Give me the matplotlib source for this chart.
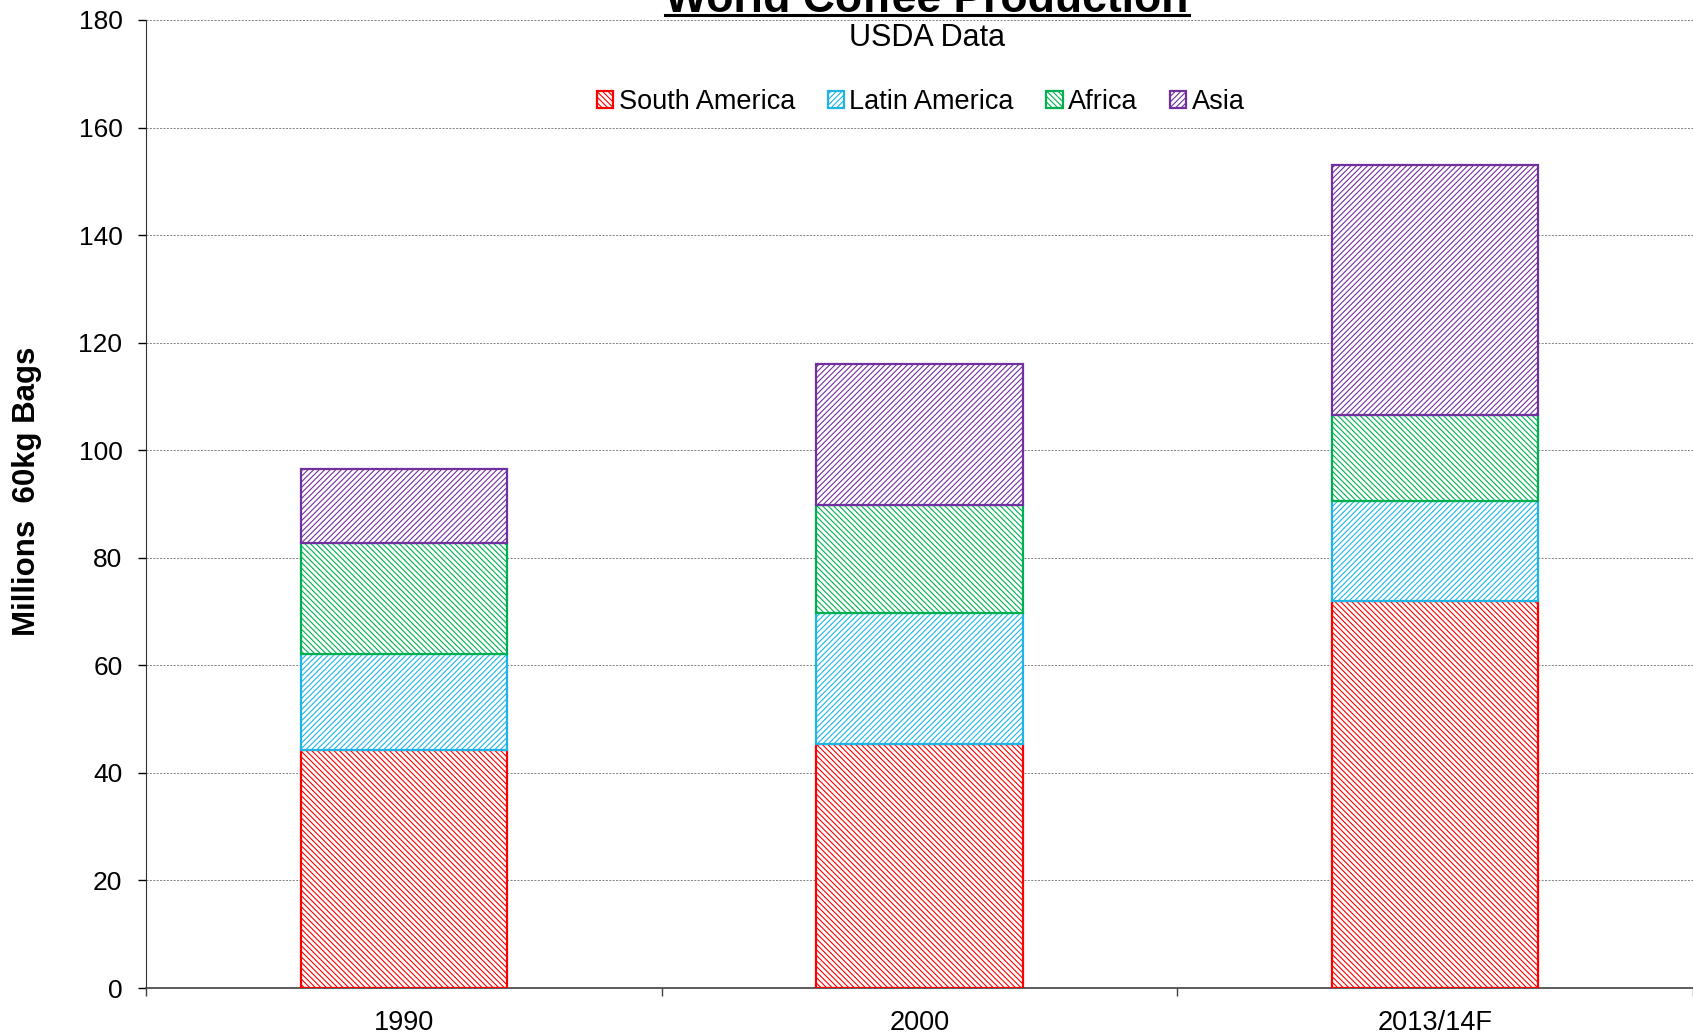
import numpy as np
import matplotlib.pyplot as plt
from matplotlib.lines import Line2D

# values (millions of 60kg bags)
categories = ['1990', '2000', '2013/14F']
south_america = [44.3, 45.3, 71.9]
latin_america = [17.9, 24.4, 18.6]
africa = [20.6, 20.1, 16.0]
asia = [13.7, 26.2, 46.6]

series = [('South America', south_america, '#FF0000', '\\' * 6),
          ('Latin America', latin_america, '#1FB4E6', '/' * 6),
          ('Africa', africa, '#00B050', '\\' * 6),
          ('Asia', asia, '#7030A0', '/' * 6)]

plt.rcParams['font.family'] = ['Liberation Sans', 'DejaVu Sans']
plt.rcParams['hatch.linewidth'] = 0.8

W, H = 1693, 1033
fig = plt.figure(figsize=(W / 100, H / 100), dpi=100)
ax = fig.add_axes([146 / W, 45 / H, 1 - 146 / W, 968 / H])

x = np.arange(len(categories))
bottom = np.zeros(len(categories))
for name, vals, col, hatch in series:
    ax.bar(x, vals, width=0.4, bottom=bottom, color='white', edgecolor=col,
           hatch=hatch, linewidth=1.6, label=name, zorder=3)
    bottom += np.array(vals)

ax.set_xlim(-0.5, 2.5)
ax.set_ylim(0, 180)
ax.set_yticks(np.arange(0, 181, 20))
ax.set_xticks(x)
ax.set_xticklabels(categories)
ax.set_xticks([-0.5, 0.5, 1.5, 2.5], minor=True)
ax.tick_params(axis='x', which='major', length=0, pad=16, labelsize=19.5)
ax.tick_params(axis='x', which='minor', length=6, width=1, color='#404040')
ax.tick_params(axis='y', length=6, width=1, pad=11, labelsize=19)

ax.grid(axis='y', color='#808080', linestyle=(0, (2, 1.5)), linewidth=0.7, zorder=0)
ax.set_axisbelow(True)
ax.spines['top'].set_visible(False)
ax.spines['right'].set_visible(False)
ax.spines['left'].set_color('#303030')
ax.spines['bottom'].set_color('#404040')
ax.spines['bottom'].set_linewidth(1.2)

# title, cut at the top like the original, underlined
title = fig.text(927 / W, 1 - 12 / H, 'World Coffee Production', fontsize=32,
                 fontweight='bold', ha='center', va='baseline')
fig.text(927 / W, 1 - 38 / H, 'USDA Data', fontsize=22, ha='center', va='center')
fig.text(27 / W, 1 - 491 / H, 'Millions  60kg Bags', fontsize=22.5, fontweight='bold',
         rotation=90, ha='center', va='center')

fig.canvas.draw()
bb = title.get_window_extent()
uy = 1 - 15 / H
fig.add_artist(Line2D([bb.x0 / W, bb.x1 / W], [uy, uy], transform=fig.transFigure,
                      color='black', linewidth=2.2))

ax.legend(loc='center', bbox_to_anchor=(921 / W, 1 - 102 / H),
          bbox_transform=fig.transFigure, ncol=4, frameon=False, fontsize=19.5,
          handlelength=0.6, handleheight=0.6, handletextpad=0.2, columnspacing=1.2)

plt.savefig('out.png', dpi=100)
